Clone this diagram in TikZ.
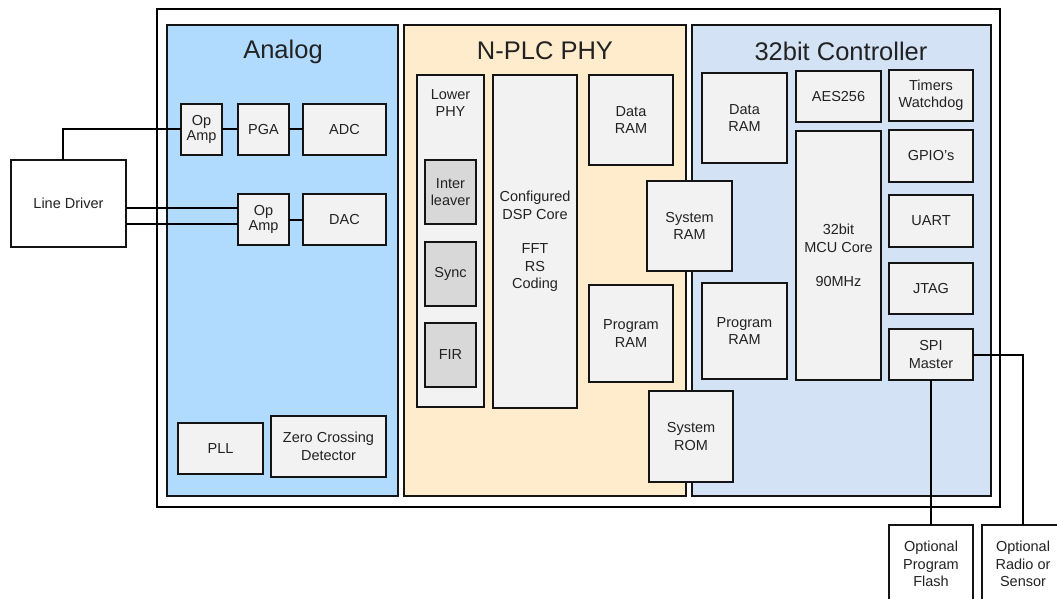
\documentclass[tikz,border=0pt]{standalone}
\usepackage{fontspec}
\setmainfont{Liberation Sans}
\definecolor{analogfill}{RGB}{176,219,255}
\definecolor{phyfill}{RGB}{255,236,204}
\definecolor{ctrlfill}{RGB}{211,226,245}
\definecolor{boxfill}{RGB}{242,242,242}
\definecolor{darkfill}{RGB}{216,216,216}
\definecolor{txt}{RGB}{34,34,34}
\definecolor{edge}{RGB}{20,20,20}
\tikzset{
  blk/.style={draw=edge, line width=2pt, fill=boxfill, inner sep=0pt, outer sep=0pt,
    align=center, text=txt, font=\fontsize{14.5}{17.5}\selectfont},
  dblk/.style={blk, fill=darkfill},
  wblk/.style={blk, fill=white},
  panel/.style={draw=edge, line width=2pt, inner sep=0pt, outer sep=0pt},
  ttl/.style={text=txt, font=\fontsize{25.5}{30}\selectfont, inner sep=0pt},
  lbl/.style={text=txt, align=center, font=\fontsize{14.5}{17.5}\selectfont, inner sep=0pt},
  wire/.style={draw=black, line width=2pt}
}
\begin{document}
\begin{tikzpicture}[x=1pt,y=-1pt]
\useasboundingbox (0,0) rectangle (1057,599);
\clip (0,0) rectangle (1057,599);
% outer frame
\node[panel, draw=black, fill=white, minimum width=843, minimum height=498] (outer) at (578.5,258) {};
% panels
\node[panel, fill=analogfill, minimum width=231, minimum height=471] (analog) at (282.5,260.5) {};
\node[panel, fill=phyfill, minimum width=282, minimum height=471] (phy) at (545,260.5) {};
\node[panel, fill=ctrlfill, minimum width=299, minimum height=471] (ctrl) at (841.5,260.5) {};
\node[ttl] (tanalog) at (283,52) {Analog};
\node[ttl] (tphy) at (545,51) {N-PLC PHY};
\node[ttl] (tctrl) at (841,51) {32bit Controller};
% analog blocks
\node[blk, minimum width=41, minimum height=51] (opa1) at (201.5,129.5) {Op\\[-2pt]Amp};
\node[blk, minimum width=51, minimum height=51] (pga) at (263.5,129.5) {PGA};
\node[blk, minimum width=83, minimum height=51] (adc) at (344.5,129.5) {ADC};
\node[blk, minimum width=51, minimum height=51] (opa2) at (263.5,219.5) {Op\\[-2pt]Amp};
\node[blk, minimum width=83, minimum height=51] (dac) at (344.5,219.5) {DAC};
\node[wblk, minimum width=115, minimum height=87] (ldrv) at (68.5,203.5) {Line Driver};
\node[blk, minimum width=85, minimum height=51] (pll) at (220.5,448.5) {PLL};
\node[blk, minimum width=115, minimum height=61] (zcd) at (328.5,446.5) {Zero Crossing\\Detector};
% PHY blocks
\node[blk, minimum width=67, minimum height=332] (lphy) at (450.5,241) {};
\node[lbl] (lphyt) at (450.5,103) {Lower\\PHY};
\node[dblk, minimum width=51, minimum height=64] (ilv) at (450.5,192) {Inter\\leaver};
\node[dblk, minimum width=51, minimum height=64] (sync) at (450.5,274) {Sync};
\node[dblk, minimum width=51, minimum height=64] (fir) at (450.5,355) {FIR};
\node[blk, minimum width=84, minimum height=333] (dsp) at (535,241.5) {Configured\\DSP Core\\[17pt]FFT\\RS\\Coding};
\node[blk, minimum width=84, minimum height=90] (pdram) at (631,120) {Data\\RAM};
\node[blk, minimum width=84, minimum height=97] (pprog) at (631,333.5) {Program\\RAM};
% controller blocks
\node[blk, minimum width=85, minimum height=90] (cdram) at (744.5,118) {Data\\RAM};
\node[blk, minimum width=85, minimum height=96] (cprog) at (744.5,331) {Program\\RAM};
\node[blk, minimum width=85, minimum height=51] (aes) at (838.5,96.5) {AES256};
\node[blk, minimum width=85, minimum height=249] (mcu) at (838.5,255.5) {32bit\\MCU Core\\[17pt]90MHz};
\node[blk, minimum width=84, minimum height=51] (tim) at (931,95.5) {Timers\\Watchdog};
\node[blk, minimum width=84, minimum height=52] (gpio) at (931,156) {GPIO’s};
\node[blk, minimum width=84, minimum height=52] (uart) at (931,221) {UART};
\node[blk, minimum width=84, minimum height=51] (jtag) at (931,288.5) {JTAG};
\node[blk, minimum width=84, minimum height=51] (spi) at (931,354.5) {SPI\\Master};
% shared RAM/ROM
\node[blk, minimum width=85, minimum height=90] (sysram) at (689.5,226) {System\\RAM};
\node[blk, minimum width=84, minimum height=91] (sysrom) at (691,436.5) {System\\ROM};
% external
\node[wblk, minimum width=84, minimum height=78] (flash) at (931,564) {Optional\\Program\\Flash};
\node[wblk, minimum width=82, minimum height=78] (radio) at (1023,564) {Optional\\Radio or\\Sensor};
% connectors
\draw[wire] ([xshift=-5.5pt]ldrv.north) |- (opa1.west);
\draw[wire] ([yshift=-4.5pt]ldrv.east) -- ([yshift=-4.5pt]ldrv.east -| opa2.west);
\draw[wire] ([yshift=-20.5pt]ldrv.east) -- ([yshift=-20.5pt]ldrv.east -| opa2.west);
\draw[wire] (opa1) -- (pga);
\draw[wire] (pga) -- (adc);
\draw[wire] (opa2) -- (dac);
\draw[wire] (spi.south) -- (flash.north);
\draw[wire] (spi.east) -| (radio.north);
\end{tikzpicture}
\end{document}
